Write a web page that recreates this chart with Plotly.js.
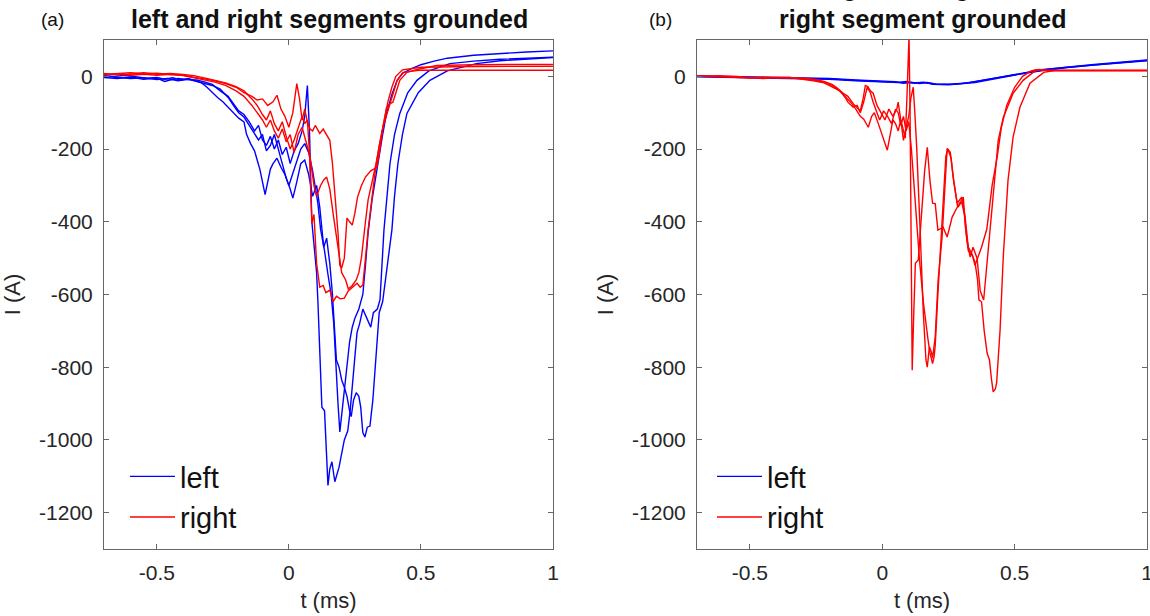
<!DOCTYPE html>
<html>
<head>
<meta charset="utf-8">
<script src="https://cdn.plot.ly/plotly-3.0.1.min.js"></script>
<style>html,body{margin:0;padding:0;background:#fff;}#chart{width:1150px;height:616px;}</style>
</head>
<body>
<div id="chart"></div>
<script>
// ---------- data: [t (ms), I (A)] ----------
// panel (a): left and right segments grounded
var aLeft1 = [[-0.70,2],[-0.66,0],[-0.62,3],[-0.58,-2],[-0.54,-5],[-0.50,-3],[-0.47,-8],[-0.44,-4],[-0.41,-10],[-0.38,-6],[-0.35,-12],[-0.33,-18],[-0.31,-30],[-0.29,-45],[-0.27,-58],[-0.25,-70],[-0.23,-85],[-0.21,-100],[-0.19,-115],[-0.17,-125],[-0.16,-160],[-0.145,-185],[-0.13,-205],[-0.12,-230],[-0.11,-255],[-0.10,-290],[-0.09,-325],[-0.08,-290],[-0.07,-255],[-0.06,-240],[-0.045,-225],[-0.03,-250],[-0.015,-270],[0.0,-300],[0.015,-265],[0.03,-230],[0.045,-200],[0.06,-185],[0.075,-210],[0.09,-260],[0.10,-300],[0.11,-350],[0.12,-420],[0.135,-480],[0.148,-545],[0.16,-600],[0.17,-680],[0.178,-800],[0.186,-900],[0.193,-978],[0.20,-930],[0.21,-870],[0.22,-790],[0.23,-730],[0.24,-690],[0.25,-665],[0.265,-640],[0.28,-600],[0.29,-520],[0.30,-430],[0.315,-340],[0.337,-239],[0.355,-160],[0.37,-102],[0.39,-50],[0.41,-11],[0.43,8],[0.46,20],[0.50,32],[0.55,42],[0.60,50],[0.70,58],[0.80,63],[0.90,67],[1.0,70]];
var aLeft2 = [[-0.70,-3],[-0.65,-6],[-0.60,-2],[-0.55,-8],[-0.50,-5],[-0.47,-14],[-0.45,-10],[-0.42,-6],[-0.38,-9],[-0.35,-10],[-0.32,-15],[-0.29,-22],[-0.26,-40],[-0.23,-55],[-0.21,-75],[-0.19,-95],[-0.17,-105],[-0.15,-125],[-0.13,-150],[-0.115,-135],[-0.10,-175],[-0.085,-190],[-0.07,-165],[-0.055,-200],[-0.04,-175],[-0.025,-215],[-0.01,-195],[0.005,-240],[0.02,-205],[0.035,-185],[0.05,-150],[0.06,-110],[0.07,-25],[0.078,-150],[0.087,-400],[0.095,-460],[0.105,-540],[0.11,-620],[0.118,-800],[0.125,-910],[0.135,-920],[0.142,-1030],[0.148,-1125],[0.155,-1080],[0.163,-1060],[0.174,-1115],[0.19,-1075],[0.21,-1000],[0.223,-975],[0.232,-920],[0.24,-860],[0.25,-780],[0.258,-705],[0.268,-680],[0.28,-640],[0.295,-665],[0.31,-690],[0.32,-650],[0.335,-640],[0.345,-615],[0.36,-423],[0.383,-239],[0.40,-160],[0.42,-102],[0.45,-45],[0.485,-11],[0.53,15],[0.61,35],[0.70,42],[0.80,47],[0.90,50],[1.0,53]];
var aLeft3 = [[-0.70,0],[-0.65,-3],[-0.60,-6],[-0.55,-4],[-0.50,-9],[-0.46,-6],[-0.42,-12],[-0.38,-8],[-0.35,-14],[-0.32,-18],[-0.29,-25],[-0.26,-35],[-0.23,-58],[-0.21,-80],[-0.19,-100],[-0.17,-112],[-0.15,-135],[-0.13,-160],[-0.115,-175],[-0.10,-160],[-0.085,-205],[-0.07,-190],[-0.055,-160],[-0.04,-200],[-0.025,-240],[-0.01,-280],[0.005,-310],[0.015,-335],[0.03,-290],[0.045,-240],[0.06,-230],[0.075,-270],[0.09,-330],[0.105,-300],[0.117,-360],[0.125,-420],[0.132,-470],[0.143,-445],[0.155,-515],[0.165,-600],[0.172,-700],[0.18,-780],[0.19,-800],[0.20,-835],[0.21,-855],[0.22,-880],[0.23,-920],[0.236,-936],[0.245,-890],[0.255,-870],[0.265,-880],[0.272,-910],[0.28,-980],[0.288,-992],[0.297,-965],[0.307,-962],[0.318,-890],[0.333,-750],[0.342,-650],[0.355,-620],[0.37,-530],[0.39,-423],[0.40,-330],[0.413,-239],[0.43,-160],[0.447,-102],[0.49,-45],[0.534,-11],[0.60,15],[0.71,35],[0.80,43],[0.90,48],[1.0,52]];
var aRight1 = [[-0.70,5],[-0.65,8],[-0.60,10],[-0.55,7],[-0.50,9],[-0.45,5],[-0.40,3],[-0.36,-2],[-0.32,-6],[-0.28,-12],[-0.24,-20],[-0.20,-30],[-0.17,-45],[-0.14,-55],[-0.12,-65],[-0.10,-62],[-0.08,-80],[-0.06,-70],[-0.045,-52],[-0.03,-90],[-0.015,-110],[0.0,-140],[0.015,-100],[0.03,-20],[0.04,-60],[0.05,-120],[0.06,-90],[0.07,-125],[0.08,-145],[0.09,-150],[0.10,-135],[0.117,-157],[0.13,-145],[0.143,-162],[0.155,-176],[0.165,-240],[0.175,-330],[0.186,-430],[0.193,-520],[0.20,-527],[0.21,-500],[0.22,-390],[0.23,-400],[0.24,-409],[0.25,-376],[0.26,-332],[0.275,-300],[0.29,-277],[0.31,-260],[0.333,-250],[0.345,-200],[0.356,-140],[0.37,-85],[0.383,-75],[0.394,-71],[0.41,-35],[0.42,-11],[0.447,11],[0.485,19],[0.56,30],[0.70,32],[1.0,33]];
var aRight2 = [[-0.70,8],[-0.65,4],[-0.60,6],[-0.55,10],[-0.50,6],[-0.45,8],[-0.40,5],[-0.36,2],[-0.32,-4],[-0.28,-10],[-0.24,-18],[-0.20,-28],[-0.17,-40],[-0.14,-62],[-0.12,-80],[-0.10,-105],[-0.085,-120],[-0.07,-95],[-0.055,-130],[-0.04,-150],[-0.025,-125],[-0.01,-165],[0.005,-200],[0.02,-175],[0.035,-140],[0.05,-110],[0.06,-130],[0.07,-120],[0.078,-210],[0.087,-404],[0.095,-380],[0.105,-514],[0.117,-580],[0.13,-575],[0.14,-595],[0.155,-588],[0.167,-620],[0.18,-605],[0.195,-612],[0.21,-610],[0.225,-590],[0.24,-580],[0.258,-569],[0.27,-580],[0.28,-574],[0.29,-500],[0.30,-423],[0.326,-266],[0.34,-200],[0.356,-140],[0.383,-74],[0.41,-11],[0.432,11],[0.50,17],[0.70,17],[1.0,17]];
var aRight3 = [[-0.70,4],[-0.65,7],[-0.60,3],[-0.55,6],[-0.50,3],[-0.45,6],[-0.40,2],[-0.36,-4],[-0.32,-9],[-0.28,-16],[-0.24,-25],[-0.20,-40],[-0.17,-55],[-0.14,-80],[-0.12,-100],[-0.10,-120],[-0.085,-140],[-0.07,-120],[-0.055,-150],[-0.04,-170],[-0.025,-145],[-0.01,-180],[0.005,-160],[0.02,-210],[0.035,-160],[0.05,-140],[0.065,-180],[0.08,-220],[0.095,-300],[0.105,-330],[0.12,-300],[0.132,-285],[0.143,-277],[0.155,-310],[0.17,-390],[0.185,-470],[0.20,-540],[0.215,-560],[0.225,-585],[0.24,-575],[0.255,-560],[0.265,-540],[0.275,-497],[0.29,-400],[0.30,-340],[0.315,-290],[0.33,-240],[0.345,-180],[0.36,-125],[0.375,-70],[0.39,-30],[0.405,0],[0.43,18],[0.50,25],[0.70,27],[1.0,28]];

// panel (b): left segment ungrounded, right segment grounded
var bLeft1 = [[-0.70,0],[-0.60,-1],[-0.50,-2],[-0.40,-3],[-0.30,-4],[-0.20,-7],[-0.10,-11],[0.0,-14],[0.07,-16],[0.10,-18],[0.15,-17],[0.20,-21],[0.25,-22],[0.30,-20],[0.35,-15],[0.40,-8],[0.45,-1],[0.50,6],[0.55,12],[0.60,18],[0.65,22],[0.70,26],[0.80,33],[0.90,39],[1.0,45]];
var bLeft2 = [[-0.70,-1],[-0.60,-2],[-0.50,-3],[-0.40,-4],[-0.30,-5],[-0.20,-8],[-0.10,-12],[0.0,-15],[0.06,-17],[0.09,-14],[0.12,-19],[0.16,-16],[0.19,-22],[0.25,-23],[0.30,-21],[0.35,-17],[0.40,-10],[0.45,-3],[0.50,4],[0.55,10],[0.60,15],[0.65,20],[0.70,24],[0.80,31],[0.90,37],[1.0,43]];
var bLeft3 = [[-0.70,1],[-0.60,0],[-0.50,-2],[-0.40,-2],[-0.30,-3],[-0.20,-6],[-0.10,-10],[0.0,-13],[0.05,-15],[0.08,-19],[0.11,-16],[0.14,-20],[0.17,-17],[0.21,-22],[0.27,-21],[0.32,-18],[0.37,-12],[0.42,-5],[0.47,2],[0.52,8],[0.57,14],[0.62,19],[0.70,25],[0.80,32],[0.90,38],[1.0,44]];
var bRight1 = [[-0.70,2],[-0.62,0],[-0.55,-2],[-0.50,-5],[-0.45,-3],[-0.40,-2],[-0.35,-3],[-0.30,-6],[-0.26,-10],[-0.22,-16],[-0.19,-25],[-0.17,-35],[-0.15,-48],[-0.13,-62],[-0.115,-75],[-0.10,-90],[-0.083,-110],[-0.07,-118],[-0.06,-130],[-0.053,-140],[-0.04,-110],[-0.03,-100],[-0.015,-130],[0.0,-160],[0.01,-185],[0.019,-203],[0.03,-160],[0.04,-120],[0.05,-130],[0.06,-150],[0.07,-120],[0.08,-150],[0.087,-170],[0.093,-60],[0.098,80],[0.101,110],[0.105,-100],[0.109,-450],[0.113,-808],[0.119,-650],[0.125,-514],[0.136,-505],[0.143,-440],[0.152,-360],[0.16,-260],[0.17,-195],[0.18,-286],[0.19,-349],[0.20,-350],[0.21,-423],[0.23,-415],[0.245,-442],[0.264,-387],[0.283,-360],[0.306,-332],[0.315,-420],[0.322,-459],[0.332,-497],[0.343,-470],[0.358,-500],[0.37,-590],[0.383,-615],[0.396,-514],[0.408,-423],[0.427,-258],[0.438,-176],[0.457,-113],[0.494,-47],[0.532,-11],[0.57,11],[0.59,19],[0.634,16],[0.80,16],[1.0,16]];
var bRight2 = [[-0.70,0],[-0.62,2],[-0.55,-1],[-0.50,-3],[-0.45,-6],[-0.40,-3],[-0.35,-4],[-0.30,-5],[-0.26,-8],[-0.22,-14],[-0.19,-22],[-0.17,-32],[-0.15,-45],[-0.13,-55],[-0.11,-75],[-0.095,-85],[-0.083,-95],[-0.072,-60],[-0.064,-25],[-0.055,-28],[-0.045,-40],[-0.034,-47],[-0.02,-80],[-0.005,-100],[0.01,-120],[0.025,-90],[0.04,-110],[0.055,-90],[0.06,-71],[0.07,-120],[0.08,-176],[0.09,-140],[0.10,-110],[0.108,-60],[0.117,-30],[0.123,-100],[0.13,-195],[0.143,-423],[0.155,-650],[0.165,-780],[0.17,-800],[0.178,-744],[0.186,-760],[0.19,-775],[0.20,-717],[0.211,-560],[0.226,-442],[0.245,-198],[0.257,-209],[0.268,-277],[0.283,-349],[0.30,-332],[0.313,-387],[0.325,-470],[0.34,-490],[0.35,-520],[0.36,-500],[0.375,-470],[0.395,-420],[0.415,-300],[0.434,-222],[0.45,-140],[0.47,-80],[0.50,-30],[0.53,0],[0.56,14],[0.58,18],[0.62,16],[0.80,16],[1.0,16]];
var bRight3 = [[-0.70,1],[-0.62,-1],[-0.55,0],[-0.50,-4],[-0.45,-2],[-0.40,-4],[-0.35,-3],[-0.30,-7],[-0.26,-12],[-0.22,-18],[-0.19,-28],[-0.16,-40],[-0.14,-58],[-0.13,-71],[-0.11,-85],[-0.095,-80],[-0.083,-100],[-0.07,-70],[-0.057,-30],[-0.045,-45],[-0.035,-70],[-0.025,-90],[-0.01,-120],[0.005,-95],[0.02,-110],[0.035,-130],[0.05,-90],[0.06,-100],[0.07,-135],[0.08,-110],[0.09,-150],[0.10,-125],[0.11,-200],[0.125,-350],[0.14,-500],[0.155,-620],[0.165,-690],[0.172,-720],[0.18,-760],[0.19,-790],[0.196,-770],[0.20,-740],[0.21,-600],[0.225,-400],[0.24,-220],[0.248,-200],[0.26,-225],[0.27,-290],[0.285,-360],[0.30,-345],[0.31,-380],[0.318,-440],[0.325,-480],[0.338,-490],[0.35,-510],[0.36,-560],[0.365,-615],[0.375,-620],[0.385,-700],[0.396,-761],[0.405,-780],[0.412,-830],[0.419,-868],[0.427,-860],[0.432,-843],[0.445,-698],[0.457,-497],[0.475,-286],[0.494,-168],[0.52,-85],[0.558,-19],[0.61,11],[0.65,16],[0.80,16],[1.0,16]];

var xTicks = [-0.5, 0, 0.5, 1];
var xTickText = ['-0.5', '0', '0.5', '1'];
var yTicks = [-1200, -1000, -800, -600, -400, -200, 0];
var yTickText = ['-1200', '-1000', '-800', '-600', '-400', '-200', '0'];
var seriesNames = ['left', 'right'];
var panelLabels = ['(a)', '(b)'];
var titleA = 'left and right segments grounded';
var titleB1 = 'left segment ungrounded,';
var titleB2 = 'right segment grounded';

// ---------- build ----------
var BLUE = '#0000ff', RED = '#ff0000';
var FONT = '"Liberation Sans", Arial, Helvetica, sans-serif';
function tr(data, color, xa, ya, name, show, leg) {
  return {
    x: data.map(function (p) { return p[0]; }),
    y: data.map(function (p) { return p[1]; }),
    type: 'scatter', mode: 'lines',
    line: {color: color, width: 1.4},
    xaxis: xa, yaxis: ya, name: name, showlegend: show,
    legend: leg, legendgroup: leg + name, hoverinfo: 'skip'
  };
}
var traces = [
  tr(aLeft1, BLUE, 'x', 'y', seriesNames[0], true, 'legend'),
  tr(aLeft2, BLUE, 'x', 'y', seriesNames[0], false, 'legend'),
  tr(aLeft3, BLUE, 'x', 'y', seriesNames[0], false, 'legend'),
  tr(aRight1, RED, 'x', 'y', seriesNames[1], true, 'legend'),
  tr(aRight2, RED, 'x', 'y', seriesNames[1], false, 'legend'),
  tr(aRight3, RED, 'x', 'y', seriesNames[1], false, 'legend'),
  tr(bLeft1, BLUE, 'x2', 'y2', seriesNames[0], true, 'legend2'),
  tr(bLeft2, BLUE, 'x2', 'y2', seriesNames[0], false, 'legend2'),
  tr(bLeft3, BLUE, 'x2', 'y2', seriesNames[0], false, 'legend2'),
  tr(bRight1, RED, 'x2', 'y2', seriesNames[1], true, 'legend2'),
  tr(bRight2, RED, 'x2', 'y2', seriesNames[1], false, 'legend2'),
  tr(bRight3, RED, 'x2', 'y2', seriesNames[1], false, 'legend2')
];

var W = 1150, H = 616, T = 40, B = 67, PH = H - T - B;
function pyTop(px) { return 1 + (T - px) / PH; }   // paper y from pixel y
function xa(domain, anchor) {
  return {
    domain: domain, anchor: anchor, range: [-0.7, 1.0001],
    tickmode: 'array', tickvals: xTicks, ticktext: xTickText,
    ticks: 'inside', ticklen: 5, tickcolor: '#666', mirror: 'ticks',
    showline: true, linecolor: '#666', linewidth: 1,
    showgrid: false, zeroline: false, ticklabeloverflow: 'allow',
    tickfont: {family: FONT, size: 21, color: '#262626'},
    ticklabelstandoff: 5,
    title: {text: 't (ms)', font: {family: FONT, size: 22, color: '#262626'}, standoff: 9}
  };
}
function ya(anchor) {
  return {
    domain: [0, 1], anchor: anchor, range: [-1300, 100],
    tickmode: 'array', tickvals: yTicks, ticktext: yTickText,
    ticks: 'inside', ticklen: 5, tickcolor: '#666', mirror: 'ticks',
    showline: true, linecolor: '#666', linewidth: 1,
    showgrid: false, zeroline: false,
    tickfont: {family: FONT, size: 21, color: '#262626'},
    ticklabelstandoff: 6,
    title: {text: 'I (A)', font: {family: FONT, size: 22, color: '#262626'}, standoff: 12}
  };
}
function legend(xpx) {
  return {
    x: xpx / W, xanchor: 'left', y: pyTop(451), yanchor: 'top',
    bgcolor: 'rgba(0,0,0,0)', borderwidth: 0,
    font: {family: FONT, size: 29, color: '#111'},
    itemwidth: 45, traceorder: 'grouped', tracegroupgap: 0
  };
}
function ann(text, xpx, ypx, size, bold) {
  return {text: bold ? '<b>' + text + '</b>' : text, xref: 'paper', yref: 'paper',
    x: xpx / W, y: pyTop(ypx), xanchor: 'center', yanchor: 'middle', showarrow: false,
    font: {family: FONT, size: size, color: '#111'}};
}
var layout = {
  width: W, height: H,
  margin: {l: 0, r: 0, t: T, b: B, pad: 0},
  paper_bgcolor: '#fff', plot_bgcolor: '#fff',
  font: {family: FONT},
  xaxis: xa([104 / W, 553 / W], 'y'),
  yaxis: ya('x'),
  xaxis2: xa([697 / W, 1147 / W], 'y2'),
  yaxis2: ya('x2'),
  legend: legend(125),
  legend2: legend(712),
  annotations: [
    ann(panelLabels[0], 52, 19, 19, false),
    ann(panelLabels[1], 660, 19, 19, false),
    ann(titleA, 329, 19, 25, true),
    ann(titleB1, 923, -13, 25, true),
    ann(titleB2, 923, 19, 25, true)
  ]
};
Plotly.newPlot('chart', traces, layout, {staticPlot: true, displayModeBar: false});
</script>
</body>
</html>
